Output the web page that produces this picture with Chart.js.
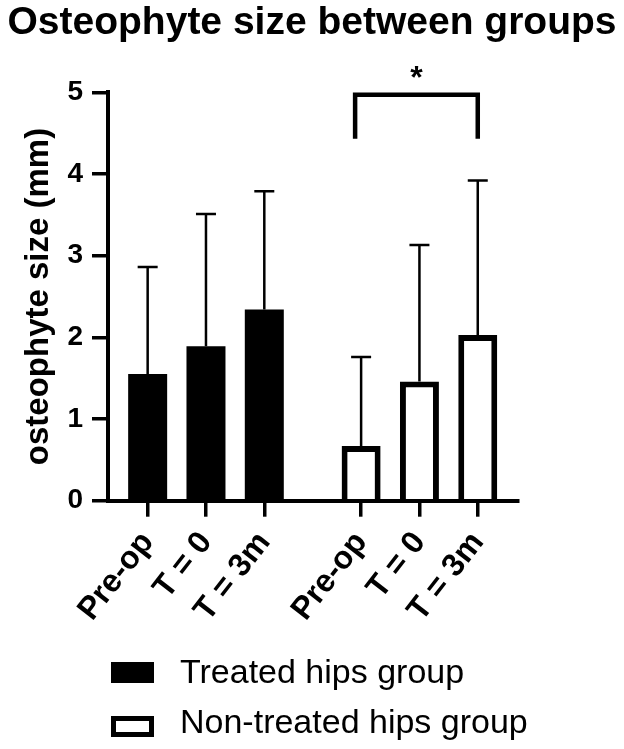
<!DOCTYPE html>
<html>
<head>
<meta charset="utf-8">
<script src="https://cdn.jsdelivr.net/npm/chart.js@4.4.0/dist/chart.umd.min.js"></script>
<style>
  body { margin: 0; background: #fff; }
  #wrap { position: relative; width: 624px; height: 749px; }
  .leg { position: absolute; left: 0; top: 0; font-family: "Liberation Sans", Arial, sans-serif; font-size: 34px; line-height: 1; color: #000; }
  .leg .box { position: absolute; width: 43px; height: 21px; box-sizing: border-box; }
  .leg .txt { position: absolute; left: 180px; white-space: nowrap; }
</style>
</head>
<body>
<div id="wrap">
  <canvas id="grafica" width="624" height="749"></canvas>
  <div class="leg" id="leyenda"></div>
</div>
<script>
// Datos
var categorias = ["Pre-op", "T = 0", "T = 3m"];
var grupos = ["Treated hips group", "Non-treated hips group"];
var mediaTratados = [1.55, 1.89, 2.34];
var desvTratados = [1.31, 1.62, 1.45];
var mediaNoTratados = [0.67, 1.46, 2.03];
var desvNoTratados = [1.09, 1.67, 1.89];
var ticksY = [0, 1, 2, 3, 4, 5];

var fuente = "'Liberation Sans', Arial, sans-serif";
var separacionGrupo = 3.66; // distancia entre el primer bar de cada grupo (en slots)

// posiciones en el eje x: grupo 1 en 1,2,3 y grupo 2 desplazado
var posX = [];
var etiquetasX = [];
for (var g = 0; g < 2; g++) {
  for (var i = 0; i < categorias.length; i++) {
    posX.push(i + 1 + g * separacionGrupo);
    etiquetasX.push(categorias[i]);
  }
}

function puntos(medias, grupo) {
  return medias.map(function (v, i) {
    return { x: posX[grupo * categorias.length + i], y: v };
  });
}

// Plugin para las barras de error (solo hacia arriba)
var barrasError = {
  id: "barrasError",
  afterDatasetsDraw: function (chart) {
    var ctx = chart.ctx;
    var yScale = chart.scales.y;
    var desv = [desvTratados, desvNoTratados];
    chart.data.datasets.forEach(function (ds, d) {
      var meta = chart.getDatasetMeta(d);
      meta.data.forEach(function (bar, i) {
        var yTop = yScale.getPixelForValue(ds.data[i].y + desv[d][i]);
        ctx.save();
        ctx.strokeStyle = "#000";
        ctx.lineWidth = 2.5;
        ctx.beginPath();
        ctx.moveTo(bar.x, bar.y);
        ctx.lineTo(bar.x, yTop);
        ctx.moveTo(bar.x - 10, yTop);
        ctx.lineTo(bar.x + 10, yTop);
        ctx.stroke();
        ctx.restore();
      });
    });
  }
};

// Plugin para el corchete de significancia
var significancia = {
  id: "significancia",
  afterDraw: function (chart) {
    var ctx = chart.ctx;
    var xs = chart.scales.x, ys = chart.scales.y;
    var x1 = xs.getPixelForValue(posX[3]) - 6;
    var x2 = xs.getPixelForValue(posX[5]);
    var yArriba = ys.getPixelForValue(4.97);
    var yAbajo = ys.getPixelForValue(4.43);
    ctx.save();
    ctx.strokeStyle = "#000";
    ctx.lineWidth = 4.5;
    ctx.lineCap = "butt";
    ctx.lineJoin = "miter";
    ctx.beginPath();
    ctx.moveTo(x1, yAbajo);
    ctx.lineTo(x1, yArriba);
    ctx.lineTo(x2, yArriba);
    ctx.lineTo(x2, yAbajo);
    ctx.stroke();
    ctx.fillStyle = "#000";
    ctx.font = "bold 32px " + fuente;
    ctx.textAlign = "center";
    ctx.textBaseline = "alphabetic";
    ctx.fillText("*", (x1 + x2) / 2, yArriba - 7);
    ctx.restore();
  }
};

var grafica = new Chart(document.getElementById("grafica"), {
  type: "bar",
  data: {
    datasets: [{
      label: grupos[0],
      data: puntos(mediaTratados, 0),
      backgroundColor: "#000",
      borderWidth: 0,
      maxBarThickness: 39,
      grouped: false
    }, {
      label: grupos[1],
      data: puntos(mediaNoTratados, 1),
      backgroundColor: "#fff",
      borderColor: "#000",
      borderWidth: 6,
      maxBarThickness: 39,
      grouped: false
    }]
  },
  options: {
    responsive: false,
    animation: false,
    layout: { padding: 0 },
    plugins: {
      legend: { display: false },
      tooltip: { enabled: false },
      title: {
        display: true,
        text: "Osteophyte size between groups",
        color: "#000",
        font: { family: fuente, size: 39, weight: "bold" },
        padding: { top: 0, bottom: 45.5 }
      }
    },
    scales: {
      x: {
        type: "linear",
        offset: false,
        min: 0.32,
        max: 7.35,
        afterBuildTicks: function (scale) {
          scale.ticks = posX.map(function (v) { return { value: v }; });
        },
        afterFit: function (scale) { scale.height = 248.3; },
        ticks: {
          autoSkip: false,
          minRotation: 52,
          maxRotation: 52,
          padding: 8,
          color: "#000",
          font: { family: fuente, size: 32, weight: "bold" },
          callback: function (v, i) { return etiquetasX[i]; }
        },
        grid: { offset: false, drawOnChartArea: false, color: "#000", lineWidth: 3.5, tickLength: 16 },
        border: { color: "#000", width: 4 }
      },
      y: {
        min: 0,
        max: 5,
        afterBuildTicks: function (scale) {
          scale.ticks = ticksY.map(function (v) { return { value: v }; });
        },
        afterFit: function (scale) { scale.width = 108; },
        ticks: {
          padding: 9,
          color: "#000",
          font: { family: fuente, size: 28, weight: "bold" }
        },
        grid: { drawOnChartArea: false, color: "#000", lineWidth: 3.5, tickLength: 16 },
        border: { color: "#000", width: 4 },
        title: {
          display: true,
          text: "osteophyte size (mm)",
          color: "#000",
          font: { family: fuente, size: 33, weight: "bold" },
          padding: { top: 19, bottom: 0 }
        }
      },
      // eje vacio a la derecha solo para reservar espacio
      derecha: {
        type: "linear",
        position: "right",
        afterFit: function (scale) { scale.width = 106; },
        ticks: { display: false },
        grid: { display: false },
        border: { display: false }
      }
    }
  },
  plugins: [barrasError, significancia]
});

// Leyenda en HTML
var leyenda = document.getElementById("leyenda");
var filas = [
  { top: 662, boxStyle: "background:#000;", textoTop: 654 },
  { top: 716, boxStyle: "background:#fff;border:5px solid #000;", textoTop: 704 }
];
grupos.forEach(function (nombre, i) {
  var caja = document.createElement("div");
  caja.className = "box";
  caja.style.cssText = filas[i].boxStyle + "left:111px;top:" + filas[i].top + "px;";
  var texto = document.createElement("div");
  texto.className = "txt";
  texto.style.top = filas[i].textoTop + "px";
  texto.textContent = nombre;
  leyenda.appendChild(caja);
  leyenda.appendChild(texto);
});
</script>
</body>
</html>
